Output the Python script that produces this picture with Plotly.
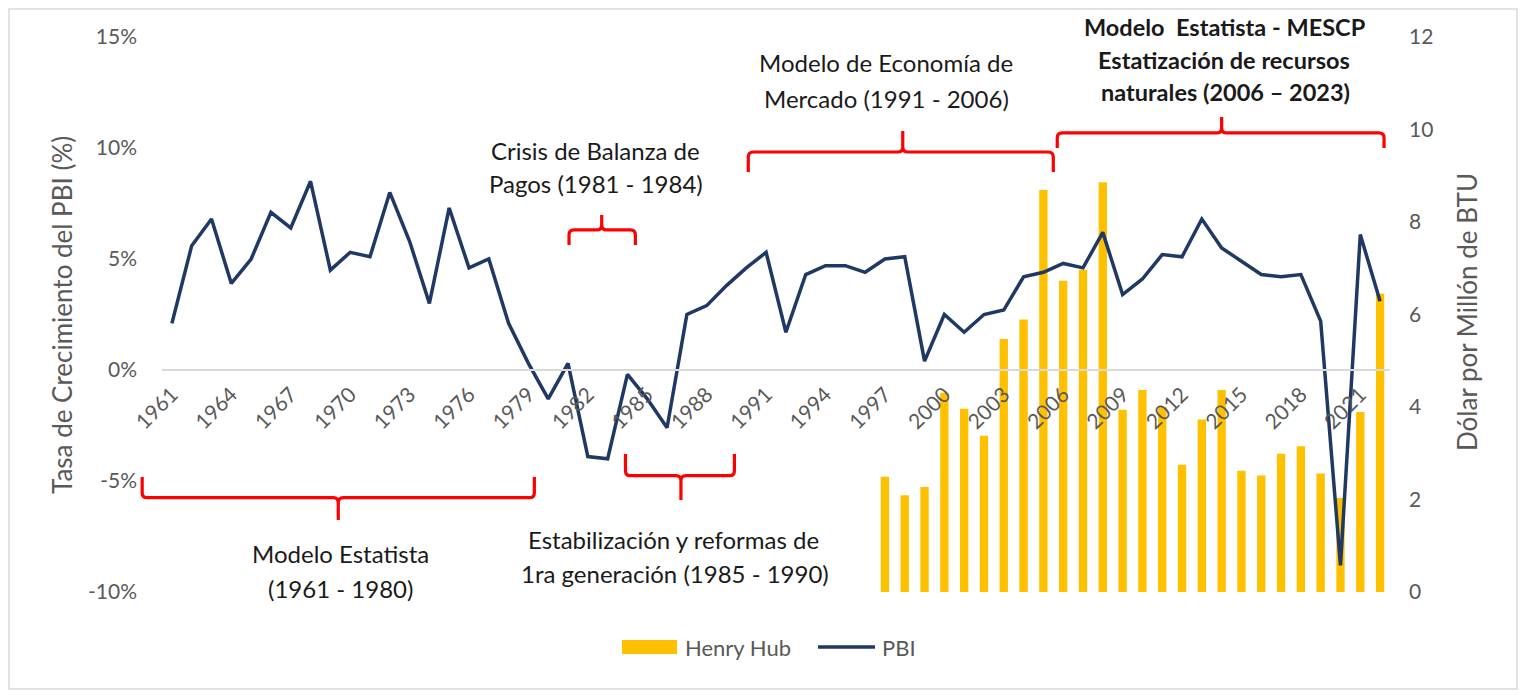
import plotly.graph_objects as go

# ---------------- data ----------------
years = list(range(1961, 2023))
pbi = [2.1, 5.6, 6.8, 3.9, 5.0, 7.1, 6.4, 8.5, 4.5, 5.3, 5.1, 8.0, 5.8, 3.0, 7.3, 4.6, 5.0, 2.1, 0.3, -1.3,
       0.3, -3.9, -4.0, -0.2, -1.3, -2.6, 2.5, 2.9, 3.8, 4.6, 5.3, 1.7, 4.3, 4.7, 4.7, 4.4, 5.0, 5.1, 0.4, 2.5,
       1.7, 2.5, 2.7, 4.2, 4.4, 4.8, 4.6, 6.2, 3.4, 4.1, 5.2, 5.1, 6.8, 5.5, 4.9, 4.3, 4.2, 4.3, 2.2, -8.8,
       6.1, 3.1]
hh_years = list(range(1997, 2023))
henry_hub = [2.49, 2.09, 2.27, 4.31, 3.96, 3.38, 5.47, 5.89, 8.69, 6.73, 6.97, 8.86, 3.94, 4.37, 4.00,
             2.75, 3.73, 4.37, 2.62, 2.52, 2.99, 3.15, 2.56, 2.03, 3.89, 6.45]
tick_years = [1961, 1964, 1967, 1970, 1973, 1976, 1979, 1982, 1985, 1988, 1991, 1994, 1997, 2000,
              2003, 2006, 2009, 2012, 2015, 2018, 2021]
left_ticks = [-10, -5, 0, 5, 10, 15]
right_ticks = [0, 2, 4, 6, 8, 10, 12]

# ---------------- geometry (page pixels) ----------------
OFF = 8                      # page offset of the figure (default body margin)
W, H = 1510, 682             # figure size
L, R, T, B = 162, 1390, 37, 592   # plot area in page pixels
PW, PH = R - L, B - T
XMIN, XMAX = 1960.5, 2022.5
YMIN, YMAX = -10, 15

FONT = "Lato"
GRAY = "#595959"
RED = "#FF0000"


def px_x(year):
    return L + (year - XMIN) / (XMAX - XMIN) * PW


def px_y(v):
    return B - (v - YMIN) / (YMAX - YMIN) * PH


def paper_x(px):
    return (px - L) / PW


def paper_y(py):
    return (B - py) / PH


def brace_path(x0, x1, xm, y_end, y_line, y_tip, r=5.0):
    X0, X1, XM = px_x(x0), px_x(x1), px_x(xm)
    YE, YL, YT = px_y(y_end), px_y(y_line), px_y(y_tip)
    d = -1 if YE < YL else 1
    pts = [
        ("M", [(X0, YE)]),
        ("L", [(X0, YL + d * r)]),
        ("Q", [(X0, YL), (X0 + r, YL)]),
        ("L", [(XM - r, YL)]),
        ("Q", [(XM, YL), (XM, YL - d * r)]),
        ("L", [(XM, YT)]),
        ("M", [(XM, YL - d * r)]),
        ("Q", [(XM, YL), (XM + r, YL)]),
        ("L", [(X1 - r, YL)]),
        ("Q", [(X1, YL), (X1, YL + d * r)]),
        ("L", [(X1, YE)]),
    ]
    s = ""
    for cmd, ps in pts:
        s += cmd + " " + " ".join(f"{paper_x(a):.5f},{paper_y(b):.5f}" for a, b in ps) + " "
    return s.strip()


# braces: (start year, end year, middle year, end value, line value, tip value) in left-axis units
braces = [
    (1959.5, 1979.3, 1969.4, -4.82, -5.75, -6.76),
    (1983.9, 1989.4, 1986.7, -3.78, -4.76, -5.86),
    (1981.05, 1984.4, 1982.7, 5.63, 6.31, 6.98),
    (1990.1, 2005.5, 1997.9, 8.92, 9.82, 10.77),
    (2005.7, 2022.2, 2014.0, 10.0, 10.68, 11.4),
]

fig = go.Figure()
fig.add_trace(go.Bar(x=hh_years, y=henry_hub, name="Henry Hub", width=0.42,
                     marker=dict(color="#FFC000", line=dict(width=0)), yaxis="y"))
fig.add_trace(go.Scatter(x=years, y=pbi, name="PBI", mode="lines",
                         line=dict(color="#203864", width=3.5), yaxis="y2"))

shapes = []
for b in braces:
    shapes.append(dict(type="path", xref="paper", yref="paper", path=brace_path(*b),
                       line=dict(color=RED, width=3.2)))
# chart border
shapes.append(dict(type="rect", xref="paper", yref="paper",
                   x0=paper_x(9), x1=paper_x(1517), y0=paper_y(689), y1=paper_y(9),
                   line=dict(color="#D9D9D9", width=1.5)))
# legend swatches
shapes.append(dict(type="rect", xref="paper", yref="paper",
                   x0=paper_x(622), x1=paper_x(677), y0=paper_y(654), y1=paper_y(640),
                   fillcolor="#FFC000", line=dict(width=0)))
shapes.append(dict(type="line", xref="paper", yref="paper",
                   x0=paper_x(818), x1=paper_x(875), y0=paper_y(647), y1=paper_y(647),
                   line=dict(color="#203864", width=3.5)))

annotations = []


def text(t, cx, cy, size=24, color="#1a1a1a", bold=False, angle=0, xanchor="center"):
    if bold:
        t = "<b>" + t + "</b>"
    annotations.append(dict(text=t, x=paper_x(cx), y=paper_y(cy), xref="paper", yref="paper",
                            showarrow=False, xanchor=xanchor, yanchor="middle", textangle=angle,
                            font=dict(family=FONT, size=size, color=color)))


text("Modelo Estatista", 340, 553)
text("(1961 - 1980)", 340, 588)
text("Estabilización y reformas de", 673, 539)
text("1ra generación (1985 - 1990)", 675, 573)
text("Crisis de Balanza de", 595, 150)
text("Pagos (1981 - 1984)", 596, 184)
text("Modelo de Economía de", 886, 63)
text("Mercado (1991 - 2006)", 886, 98)
text("Modelo&nbsp; Estatista - MESCP", 1225, 27, size=23.5, bold=True)
text("Estatización de recursos", 1224, 60, size=23.5, bold=True)
text("naturales (2006 – 2023)", 1225, 92, size=23.5, bold=True)
# axis titles
text("Tasa de Crecimiento del PBI (%)", 62, 315, size=26, color=GRAY, angle=-90)
text("Dólar por Millón de BTU", 1467, 312, size=26, color=GRAY, angle=-90)
# legend texts
text("Henry Hub", 683, 647, size=22, color=GRAY, xanchor="left")
text("PBI", 880, 647, size=22, color=GRAY, xanchor="left")

fig.update_layout(
    width=W, height=H,
    margin=dict(l=L - OFF, r=(OFF + W) - R, t=T - OFF, b=(OFF + H) - B, autoexpand=False),
    paper_bgcolor="white", plot_bgcolor="white",
    showlegend=False,
    font=dict(family=FONT, color=GRAY, size=22),
    bargap=0.58,
    xaxis=dict(range=[XMIN, XMAX], tickmode="array", tickvals=tick_years,
               ticktext=[str(y) for y in tick_years], tickangle=-45,
               anchor="free", position=(0 - YMIN) / (YMAX - YMIN),
               showline=True, linecolor="#D9D9D9", linewidth=2,
               showgrid=False, zeroline=False, ticks="", ticklabelstandoff=3,
               tickfont=dict(family=FONT, size=21, color=GRAY), automargin=False),
    yaxis=dict(range=[0, 12], side="right", tickmode="array", tickvals=right_ticks,
               showgrid=False, zeroline=False, showline=False, ticks="",
               ticklabelstandoff=18, tickfont=dict(family=FONT, size=21, color=GRAY),
               automargin=False),
    yaxis2=dict(range=[YMIN, YMAX], side="left", overlaying="y", tickmode="array",
                tickvals=left_ticks, ticktext=[f"{v}%" for v in left_ticks],
                showgrid=False, zeroline=False, showline=False, ticks="",
                ticklabelstandoff=24, tickfont=dict(family=FONT, size=21, color=GRAY),
                automargin=False),
    shapes=shapes,
    annotations=annotations,
)

fig.write_html("out.html")
